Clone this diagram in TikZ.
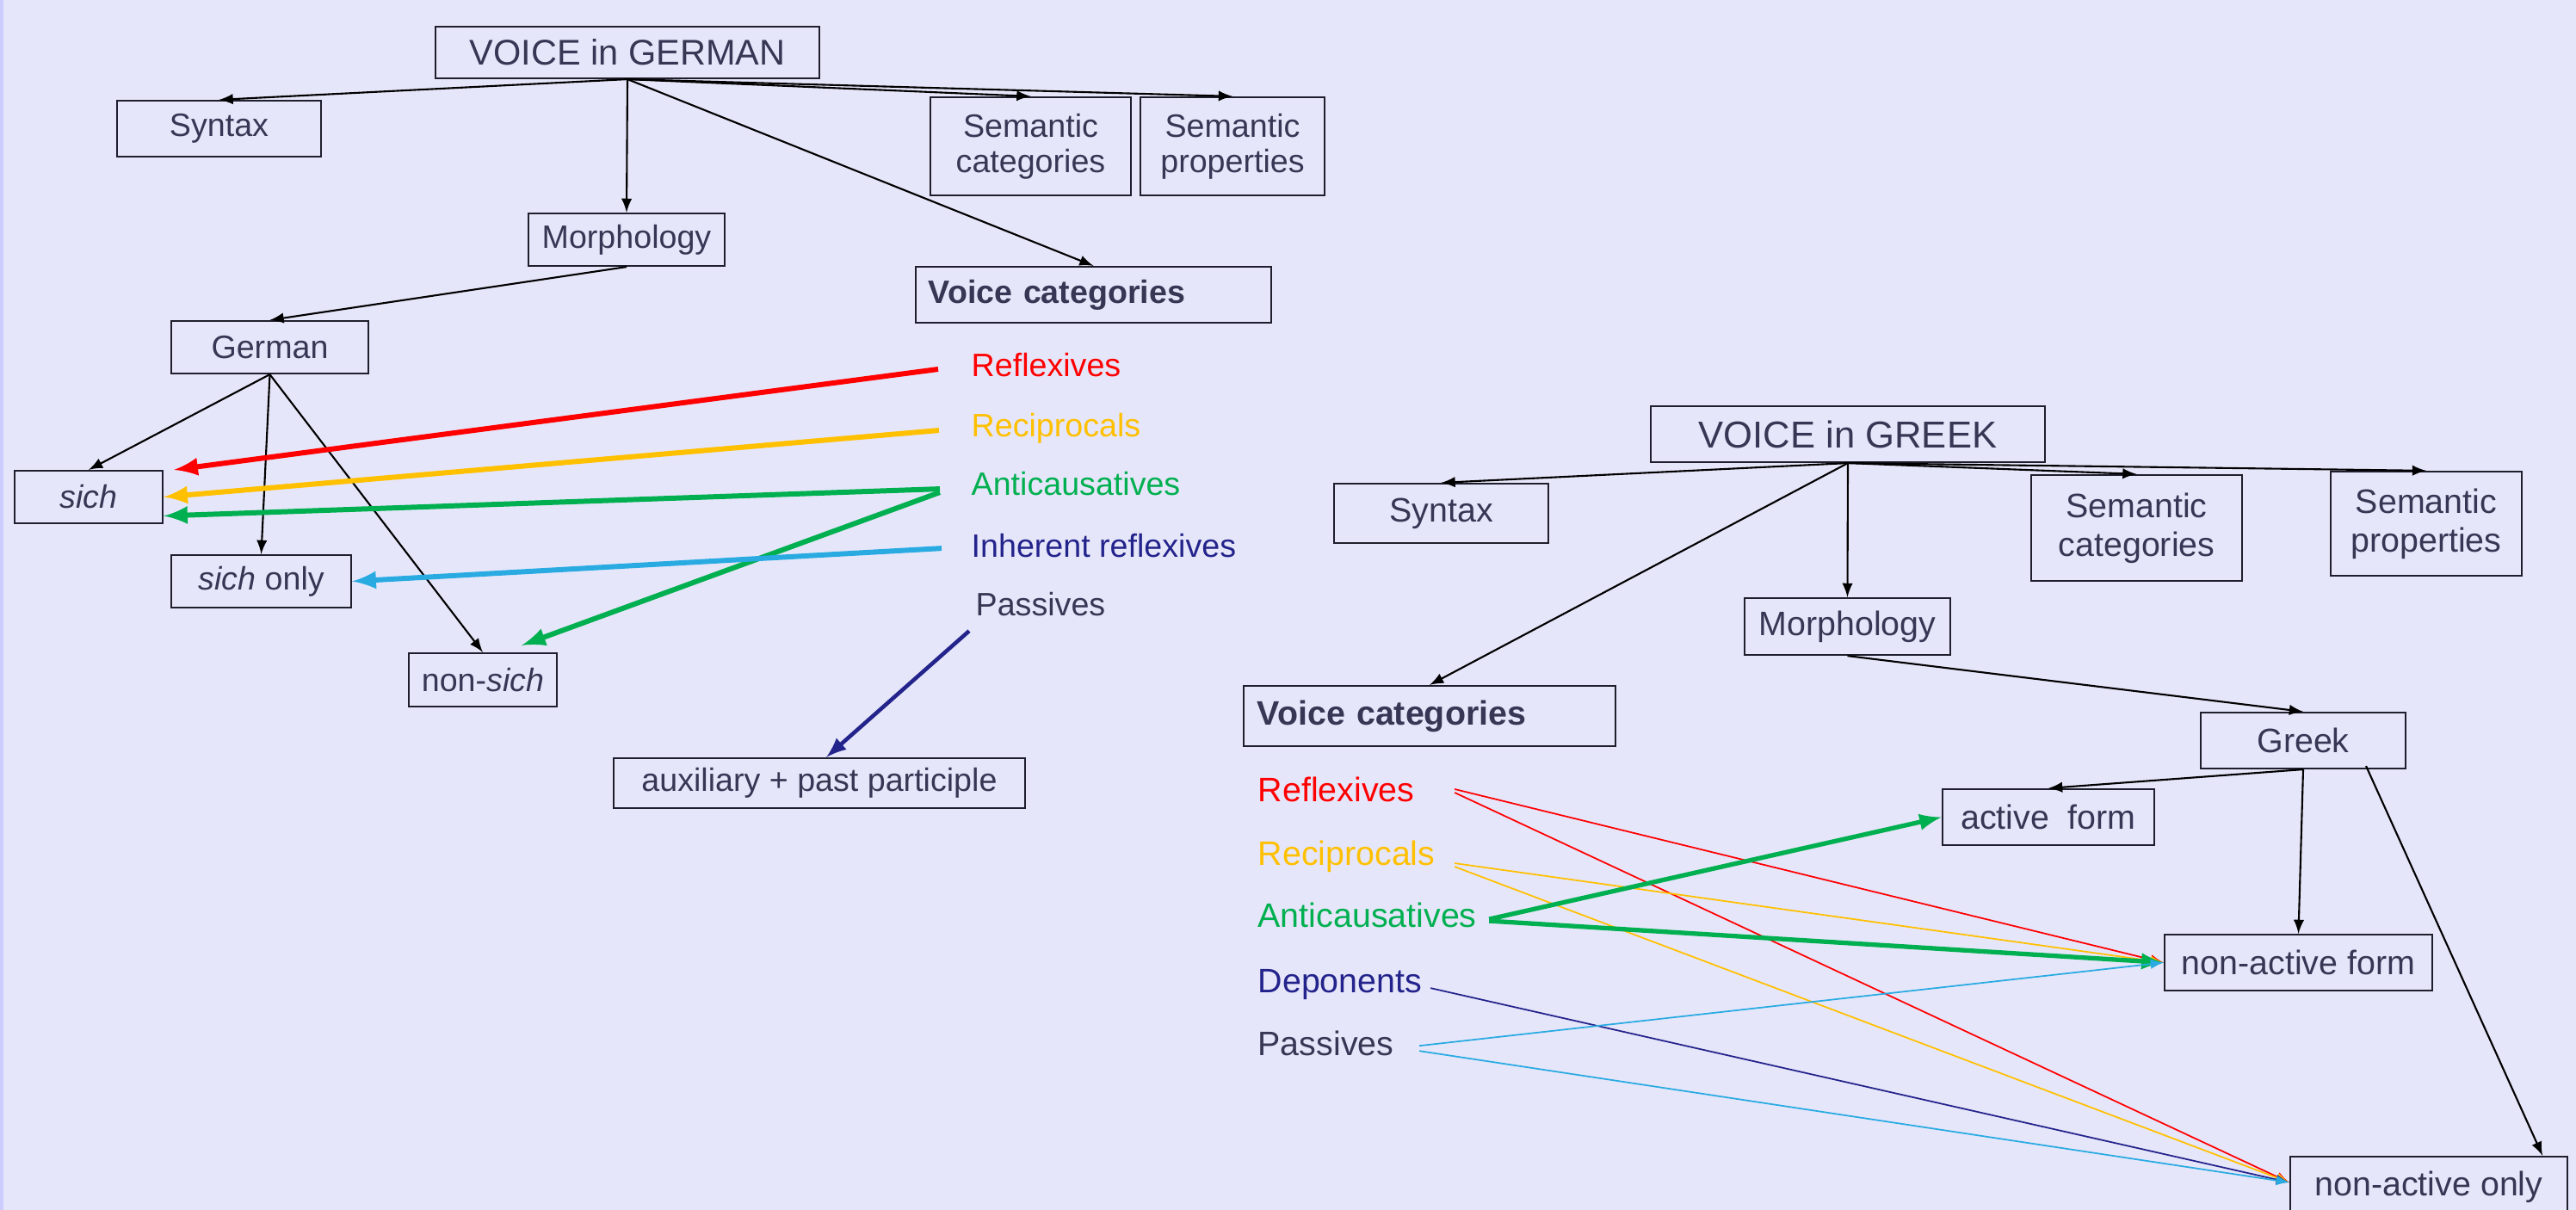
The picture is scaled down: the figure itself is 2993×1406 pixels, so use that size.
\documentclass[tikz,border=0pt]{standalone}
\usepackage{fontspec}
\setmainfont{Liberation Sans}
\usetikzlibrary{positioning}
\definecolor{bg}{RGB}{230,230,250}
\definecolor{bgedge}{RGB}{204,204,255}
\definecolor{ink}{RGB}{55,55,85}
\definecolor{frame}{RGB}{30,30,45}
\definecolor{cred}{RGB}{255,0,0}
\definecolor{cyel}{RGB}{255,192,0}
\definecolor{cgreen}{RGB}{0,176,80}
\definecolor{cblue}{RGB}{41,171,226}
\definecolor{cnavy}{RGB}{35,35,140}

\begin{document}
\begin{tikzpicture}[x=0.01cm,y=-0.01cm,>=latex]

	\tikzstyle{box}=[draw=frame,line width=0.6pt,text=ink,inner sep=0pt,align=center]
	\tikzstyle{textde}=[font=\fontsize{10.7}{11.7}\selectfont]
	\tikzstyle{textgr}=[font=\fontsize{11.2}{12.8}\selectfont]
	\tikzstyle{lbl}=[inner sep=0pt,anchor=base west]
	\tikzstyle{tree}=[->,line width=0.6pt]
	\tikzstyle{linkde}=[->,line width=1.7pt]
	\tikzstyle{linkgr}=[->,line width=0.5pt]

	\useasboundingbox (0,0) rectangle (2993,1406);
	\fill[bg] (0,0) rectangle (2993,1406);
	\fill[bgedge] (0,0) rectangle (4,1406);

	% German
	\node[box,font=\fontsize{11.8}{13}\selectfont,minimum width=44.6mm,minimum height=6mm] (vde) at (729,61) {VOICE in GERMAN};
	\node[box,textde,minimum width=23.7mm,minimum height=6.5mm] (synde) at (254.5,149.5) {Syntax};
	\node[box,textde,minimum width=23.3mm,minimum height=11.4mm] (semcde) at (1197.5,170) {Semantic\\categories};
	\node[box,textde,minimum width=21.4mm,minimum height=11.4mm] (sempde) at (1432,170) {Semantic\\properties};
	\node[box,textde,minimum width=22.8mm,minimum height=6.1mm] (morde) at (728,278.5) {Morphology};
	\node[box,textde,text width=38.3mm,align=left,inner xsep=1.5mm,minimum height=6.5mm] (catde) at (1270.5,342.5) {\textbf{Voice categories}};
	\node[box,textde,minimum width=22.9mm,minimum height=6.1mm] (ger) at (313.5,403.5) {German};
	\node[box,textde,minimum width=17.2mm,minimum height=6.1mm] (sich) at (103,577.5) {\textit{sich}};
	\node[box,textde,minimum width=20.9mm,minimum height=6.1mm] (sichonly) at (303.5,675.5) {\textit{sich} only};
	\node[box,textde,minimum width=17.2mm,minimum height=6.2mm] (nonsich) at (561,790) {non-\textit{sich}};
	\node[box,textde,minimum width=47.8mm,minimum height=5.8mm] (aux) at (952,910) {auxiliary + past participle};

	\node[lbl,textde,text=cred] (reflde) at (1128,437) {Reflexives};
	\node[lbl,textde,text=cyel,below=7mm of reflde.base west,anchor=base west] (recde) {Reciprocals};
	\node[lbl,textde,text=cgreen,below=6.8mm of recde.base west,anchor=base west] (antide) {Anticausatives};
	\node[lbl,textde,text=cnavy,below=7.2mm of antide.base west,anchor=base west] (inhde) {Inherent reflexives};
	\node[lbl,textde,text=ink,below=6.8mm of inhde.base west,anchor=base west,xshift=0.5mm] (passde) {Passives};

	\draw[tree] (vde.south) -- (synde.north);
	\draw[tree] (vde.south) -- (semcde.north);
	\draw[tree] (vde.south) -- (sempde.north);
	\draw[tree] (vde.south) -- (morde.north);
	\draw[tree] (vde.south) -- (catde.north);
	\draw[tree] (morde.south) -- (ger.north);
	\draw[tree] (ger.south) -- (sich.north);
	\draw[tree] (ger.south) -- (sichonly.north);
	\draw[tree] (ger.south) -- (nonsich.north);

	\draw[linkde,cred] ([xshift=-3.8mm,yshift=0.8mm]reflde.base west) -- ([xshift=1.2mm]sich.north east);
	\draw[linkde,cyel] ([xshift=-3.7mm,yshift=0.7mm]recde.base west) -- (sich.east);
	\draw[linkde,cgreen] ([xshift=-3.6mm,yshift=0.7mm]antide.base west) -- ([yshift=-2.2mm]sich.east);
	\draw[linkde,cgreen] ([xshift=-3.6mm,yshift=0.3mm]antide.base west) -- ([xshift=4.5mm,yshift=0.8mm]nonsich.north);
	\draw[linkde,cblue] ([xshift=-3.4mm,yshift=1mm]inhde.base west) -- (sichonly.east);
	\draw[linkde,cnavy,line width=1.3pt] ([xshift=-0.7mm,yshift=-1.8mm]passde.base west) -- ([xshift=0.8mm]aux.north);

	% Greek
	\node[box,font=\fontsize{12.4}{14}\selectfont,minimum width=45.8mm,minimum height=6.5mm] (vgr) at (2147,504.5) {VOICE in GREEK};
	\node[box,textgr,minimum width=24.9mm,minimum height=6.9mm] (syngr) at (1674.5,596.5) {Syntax};
	\node[box,textgr,minimum width=24.5mm,minimum height=12.3mm] (semcgr) at (2482.5,613.5) {Semantic\\categories};
	\node[box,textgr,minimum width=22.2mm,minimum height=12.1mm] (sempgr) at (2819,608.5) {Semantic\\properties};
	\node[box,textgr,minimum width=23.9mm,minimum height=6.6mm] (morgr) at (2146.5,728) {Morphology};
	\node[box,textgr,text width=40mm,align=left,inner xsep=1.6mm,minimum height=7mm] (catgr) at (1661,832) {\textbf{Voice categories}};
	\node[box,textgr,minimum width=23.8mm,minimum height=6.5mm] (greek) at (2676,860.5) {Greek};
	\node[box,textgr,minimum width=24.6mm,minimum height=6.5mm] (act) at (2380,949.5) {active\ \ form};
	\node[box,textgr,minimum width=31.1mm,minimum height=6.5mm] (nact) at (2670.5,1118.5) {non-active form};
	\node[box,textgr,minimum width=32.2mm,minimum height=7mm] (nonly) at (2822,1379) {non-active only};

	\node[lbl,textgr,text=cred] (reflgr) at (1461,931) {Reflexives};
	\node[lbl,textgr,text=cyel,below=7.4mm of reflgr.base west,anchor=base west] (recgr) {Reciprocals};
	\node[lbl,textgr,text=cgreen,below=7.2mm of recgr.base west,anchor=base west] (antigr) {Anticausatives};
	\node[lbl,textgr,text=cnavy,below=7.6mm of antigr.base west,anchor=base west] (depgr) {Deponents};
	\node[lbl,textgr,text=ink,below=7.3mm of depgr.base west,anchor=base west] (passgr) {Passives};

	\draw[tree] (vgr.south) -- (syngr.north);
	\draw[tree] (vgr.south) -- (semcgr.north);
	\draw[tree] (vgr.south) -- (sempgr.north);
	\draw[tree] (vgr.south) -- (morgr.north);
	\draw[tree] (vgr.south) -- (catgr.north);
	\draw[tree] (morgr.south) -- (greek.north);
	\draw[tree] (greek.south) -- (act.north);
	\draw[tree] (greek.south) -- (nact.north);
	\draw[tree] ([xshift=7.3mm,yshift=0.4mm]greek.south) -- ([xshift=-3mm]nonly.north east);

	\draw[linkgr,cred] ([xshift=22.9mm,yshift=1.4mm]reflgr.base west) -- (nact.west);
	\draw[linkgr,cred] ([xshift=22.9mm,yshift=1mm]reflgr.base west) -- ([yshift=-3.1mm]nonly.north west);
	\draw[linkgr,cyel] ([xshift=22.9mm,yshift=0.2mm]recgr.base west) -- (nact.west);
	\draw[linkgr,cyel] ([xshift=22.9mm,yshift=-0.2mm]recgr.base west) -- ([yshift=-3.1mm]nonly.north west);
	\draw[linkgr,cgreen,line width=1.5pt] ([xshift=26.9mm,yshift=0.9mm]antigr.base west) -- (act.west);
	\draw[linkgr,cgreen,line width=1.5pt] ([xshift=26.9mm,yshift=0.7mm]antigr.base west) -- (nact.west);
	\draw[linkgr,cnavy] ([xshift=20.1mm,yshift=0.5mm]depgr.base west) -- ([yshift=-3.1mm]nonly.north west);
	\draw[linkgr,cblue] ([xshift=18.8mm,yshift=1.1mm]passgr.base west) -- (nact.west);
	\draw[linkgr,cblue] ([xshift=18.8mm,yshift=0.5mm]passgr.base west) -- ([yshift=-3.1mm]nonly.north west);
\end{tikzpicture}
\end{document}
